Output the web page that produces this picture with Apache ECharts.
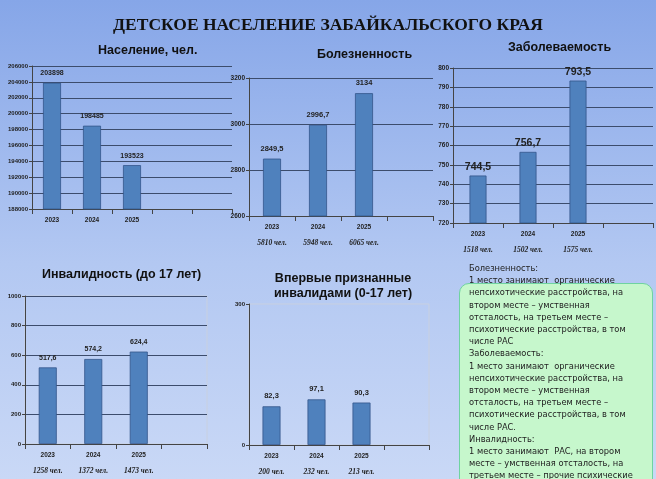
<!DOCTYPE html>
<html lang="ru">
<head>
<meta charset="UTF-8">
<script src="https://cdn.jsdelivr.net/npm/echarts@6/dist/echarts.min.js"></script>
<style>
    body { margin: 0; }
    #wrap {
        position: relative;
        width: 656px;
        height: 479px;
        background: linear-gradient(#86a6e8, #b3c8f2 55%, #c9d8f6);
        overflow: hidden;
    }
    #main { position: absolute; left: 0; top: 0; width: 656px; height: 479px; }
    .note-box {
        position: absolute;
        left: 459px; top: 283px;
        width: 192px; height: 210px;
        background: #c6f7cc;
        border: 1px solid #6fd3a0;
        border-radius: 10px;
    }
    .note {
        position: absolute;
        left: 469px; top: 262px;
        white-space: nowrap;
        font-family: "DejaVu Sans", sans-serif;
        font-size: 8.3px;
        line-height: 12.2px;
        color: #222;
    }
</style>
</head>
<body>
<div id="wrap">
    <div class="note-box"></div>
    <div id="main"></div>
    <div class="note">Болезненность:<br>1 место занимают&nbsp; органические<br>непсихотические расстройства, на<br>втором месте – умственная<br>отсталость, на третьем месте –<br>психотические расстройства, в том<br>числе РАС<br>Заболеваемость:<br>1 место занимают&nbsp; органические<br>непсихотические расстройства, на<br>втором месте – умственная<br>отсталость, на третьем месте –<br>психотические расстройства, в том<br>числе РАС.<br>Инвалидность:<br>1 место занимают&nbsp; РАС, на втором<br>месте – умственная отсталость, на<br>третьем месте – прочие психические<br>расстройства</div>
</div>
<script>
    // годы
    var years = ['2023', '2024', '2025', ''];
    var yearsPop = ['2023', '2024', '2025', '', ''];

    // Население, чел.
    var population = [203898, 198485, 193523];
    // Болезненность
    var prevalence = [2849.5, 2996.7, 3134];
    var prevalenceCount = ['5810 чел.', '5948 чел.', '6065 чел.'];
    // Заболеваемость
    var incidence = [744.5, 756.7, 793.5];
    var incidenceCount = ['1518 чел.', '1502 чел.', '1575 чел.'];
    // Инвалидность (до 17 лет)
    var disability = [517.6, 574.2, 624.4];
    var disabilityCount = ['1258 чел.', '1372 чел.', '1473 чел.'];
    // Впервые признанные инвалидами (0-17 лет)
    var newDisabled = [82.3, 97.1, 90.3];
    var newDisabledCount = ['200 чел.', '232 чел.', '213 чел.'];

    var chart = echarts.init(document.getElementById('main'));

    var grids = [
        { left: 32, top: 66, width: 200, height: 143 },
        { left: 249, top: 78, width: 184, height: 138 },
        { left: 453, top: 68, width: 200, height: 155 },
        { left: 25, top: 296, width: 182, height: 148 },
        { left: 249, top: 304, width: 180, height: 141 }
    ];
    var yAxes = [
        { min: 188000, max: 206000, interval: 2000, size: 6 },
        { min: 2600, max: 3200, interval: 200, size: 6.5 },
        { min: 720, max: 800, interval: 10, size: 6.5 },
        { min: 0, max: 1000, interval: 200, size: 6 },
        { min: 0, max: 300, interval: 300, size: 6 }
    ];
    var cats = [yearsPop, years, years, years, years];
    var counts = [null, prevalenceCount, incidenceCount, disabilityCount, newDisabledCount];
    var values = [population, prevalence, incidence, disability, newDisabled];
    var labelSize = [7, 7.5, 10.5, 7, 7.5];

    function fmt(v) {
        return String(v).replace('.', ',');
    }

    var option = {
        animation: false,
        title: [
            { text: 'ДЕТСКОЕ НАСЕЛЕНИЕ ЗАБАЙКАЛЬСКОГО КРАЯ', left: 'center', top: 11,
              textStyle: { fontFamily: 'Liberation Serif', fontWeight: 'bold', fontSize: 17.5, color: '#111' } },
            { text: 'Население, чел.', left: 93, top: 38 },
            { text: 'Болезненность', left: 312, top: 42 },
            { text: 'Заболеваемость', left: 503, top: 35 },
            { text: 'Инвалидность (до 17 лет)', left: 37, top: 262 },
            { text: 'Впервые признанные\nинвалидами (0-17 лет)', left: 338, top: 266, textAlign: 'center' }
        ].map(function (t, i) {
            if (i > 0) {
                t.textStyle = { fontFamily: 'Liberation Sans', fontWeight: 'bold', fontSize: 12.5, color: '#111', lineHeight: 15 };
            }
            return t;
        }),
        grid: grids.map(function (g, i) {
            return Object.assign({
                show: i >= 3,
                borderColor: '#c8d0e0',
                borderWidth: 1,
                backgroundColor: 'transparent'
            }, g);
        }),
        xAxis: grids.map(function (g, i) {
            return {
                type: 'category',
                gridIndex: i,
                data: cats[i],
                axisLine: { lineStyle: { color: '#444' } },
                axisTick: { show: true, lineStyle: { color: '#444' } },
                axisLabel: {
                    margin: 6,
                    interval: 0,
                    formatter: function (v, idx) {
                        if (!v) return '';
                        var c = counts[i];
                        return c ? v + '\n{i|' + c[idx] + '}' : v;
                    },
                    fontFamily: 'Liberation Sans', fontWeight: 'bold', fontSize: 6.5, color: '#222',
                    lineHeight: 10,
                    rich: {
                        i: { fontFamily: 'Liberation Serif', fontStyle: 'italic', fontWeight: 'bold',
                             fontSize: 7.5, color: '#222', padding: [12, 0, 0, 0] }
                    }
                }
            };
        }),
        yAxis: yAxes.map(function (a, i) {
            return {
                type: 'value',
                gridIndex: i,
                min: a.min, max: a.max, interval: a.interval,
                axisLine: { show: true, lineStyle: { color: '#444' } },
                axisTick: { show: true, length: 3, lineStyle: { color: '#444' } },
                splitLine: { show: i !== 4, lineStyle: { color: '#3c4c6c', width: 1 } },
                axisLabel: { formatter: function (v) { return String(v); },
                    fontFamily: 'Liberation Sans', fontWeight: 'bold', fontSize: a.size, color: '#222', margin: 4 }
            };
        }),
        series: values.map(function (vals, i) {
            return {
                type: 'bar',
                xAxisIndex: i,
                yAxisIndex: i,
                data: vals,
                barWidth: i === 2 ? 17 : 18,
                itemStyle: { color: '#4f81bd', borderColor: '#34568a', borderWidth: 0.8 },
                label: {
                    show: true,
                    position: 'top',
                    distance: i === 2 ? 3 : 6,
                    formatter: function (p) { return fmt(p.value); },
                    fontFamily: 'Liberation Sans', fontWeight: 'bold',
                    fontSize: labelSize[i], color: '#222'
                }
            };
        })
    };

    chart.setOption(option);
</script>
</body>
</html>
